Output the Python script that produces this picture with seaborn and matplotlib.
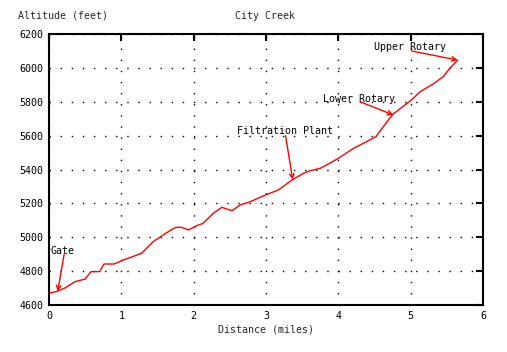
import pandas as pd
import seaborn as sns
import matplotlib.pyplot as plt

# Trail profile
distance = [0.0, 0.11, 0.22, 0.36, 0.50, 0.58, 0.70, 0.76, 0.90, 1.03, 1.28, 1.44,
            1.70, 1.76, 1.83, 1.93, 2.04, 2.13, 2.27, 2.39, 2.47, 2.53, 2.64, 2.78,
            2.99, 3.17, 3.36, 3.52, 3.61, 3.75, 3.88, 4.00, 4.21, 4.39, 4.52, 4.69,
            4.76, 5.01, 5.13, 5.31, 5.45, 5.54, 5.65]
altitude = [4670, 4680, 4700, 4738, 4753, 4797, 4797, 4842, 4842, 4866, 4905, 4974,
            5047, 5059, 5059, 5043, 5068, 5082, 5141, 5177, 5165, 5157, 5190, 5210,
            5249, 5279, 5338, 5378, 5393, 5407, 5437, 5466, 5525, 5564, 5594, 5692,
            5728, 5810, 5859, 5905, 5948, 5997, 6046]

label_names = ['Gate', 'Filtration Plant', 'Lower Rotary', 'Upper Rotary']
label_pos = [(0.02, 4920), (2.6, 5627), (3.79, 5816), (4.49, 6123)]
arrow_from = [(0.21, 4900), (3.27, 5600), (4.30, 5800), (5.01, 6100)]
arrow_to = [(0.12, 4680), (3.37, 5340), (4.76, 5722), (5.65, 6046)]

df = pd.DataFrame({'Distance': distance, 'Altitude': altitude})

sns.set_style('white')
plt.rcParams['font.family'] = ['DejaVu Sans Mono']
plt.rcParams['font.size'] = 7.2

fig = plt.figure(figsize=(5.07, 3.52), dpi=100)
ax = fig.add_axes([0.0966, 0.1335, 0.8561, 0.7699])

sns.lineplot(data=df, x='Distance', y='Altitude', color='red', linewidth=1, ax=ax)

for name, pos in zip(label_names, label_pos):
    ax.text(pos[0], pos[1], name, ha='left', va='center', color='black')
for a, b in zip(arrow_from, arrow_to):
    ax.annotate('', xy=b, xytext=a,
                arrowprops=dict(arrowstyle='->', color='red', lw=1,
                                shrinkA=0, shrinkB=0, mutation_scale=8))

ax.set_xlim(0, 6)
ax.set_ylim(4600, 6200)
ax.set_xticks(range(0, 7))
ax.set_yticks(range(4600, 6201, 200))
ax.grid(True, color='black', linestyle=(0, (1, 7)), linewidth=1)
ax.tick_params(direction='in', length=5, width=1.5, top=True, right=True,
               labelsize=7.2, pad=4, colors='black')
ax.set_xticklabels([str(v) for v in range(0, 7)])
for spine in ax.spines.values():
    spine.set_visible(True)
    spine.set_linewidth(1.5)
    spine.set_color('black')

ax.set_xlabel('Distance (miles)', labelpad=3)
ax.set_ylabel('')
fig.text(0.036, 0.955, 'Altitude (feet)', ha='left', va='center')
fig.text(0.523, 0.955, 'City Creek', ha='center', va='center')

fig.savefig('out.png', dpi=100)
